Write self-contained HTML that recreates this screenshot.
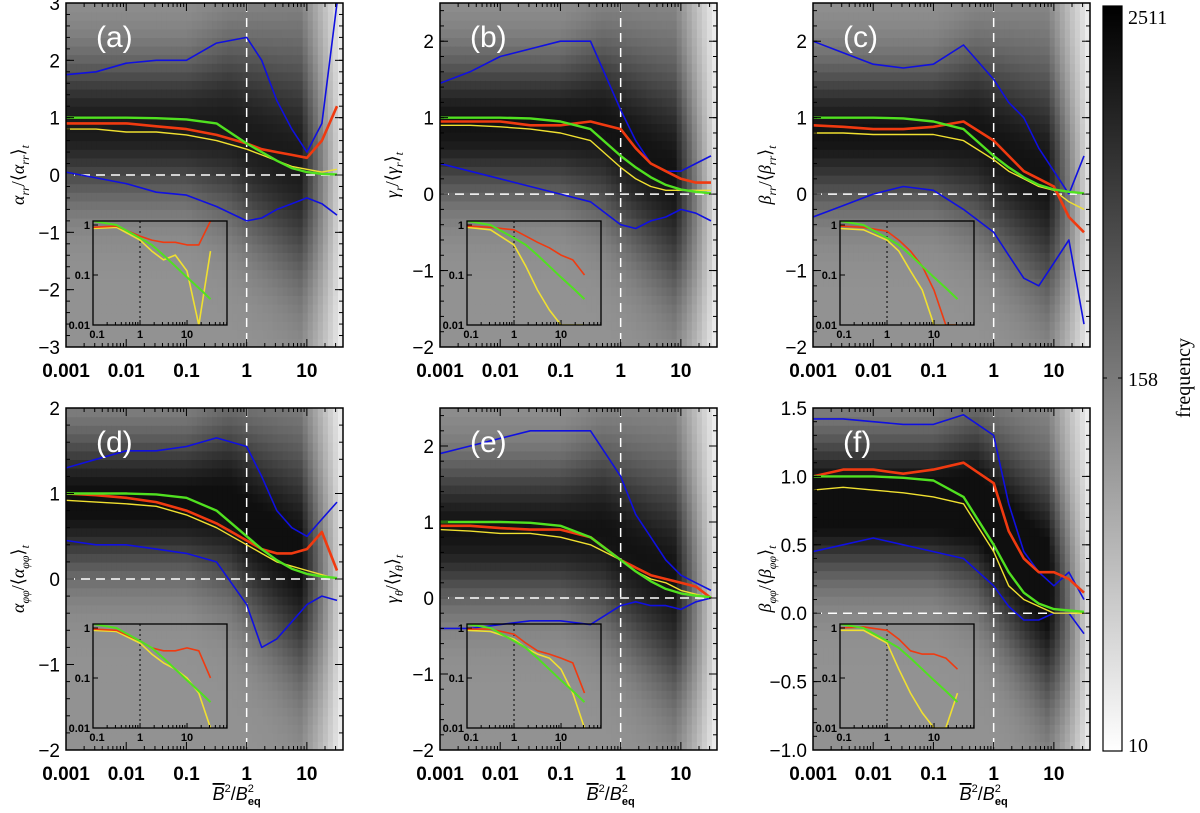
<!DOCTYPE html>
<html><head><meta charset="utf-8"><style>
body{margin:0;background:#fff;}
svg text{font-family:"Liberation Sans",sans-serif;}
</style></head><body>
<svg id="fig" width="1200" height="808" xmlns="http://www.w3.org/2000/svg">
<defs><linearGradient id="cbg" x1="0" y1="1" x2="0" y2="0"><stop offset="0" stop-color="#fff"/><stop offset="0.5" stop-color="#7a7a7a"/><stop offset="1" stop-color="#000"/></linearGradient></defs>
<g id="panels"></g>
<rect x="1103" y="6" width="19" height="745" fill="url(#cbg)" stroke="#000" stroke-width="1.2"/>
<text x="1128" y="24" font-size="20" style="font-family:'Liberation Serif',serif">2511</text>
<text x="1128" y="386" font-size="20" style="font-family:'Liberation Serif',serif">158</text>
<text x="1128" y="752" font-size="20" style="font-family:'Liberation Serif',serif">10</text>
<line x1="1103" y1="378" x2="1107" y2="378" stroke="#000"/><line x1="1118" y1="378" x2="1122" y2="378" stroke="#000"/>
<text transform="translate(1190,378) rotate(-90)" font-size="20" text-anchor="middle" style="font-family:'Liberation Serif',serif">frequency</text>
</svg>
<script>
const NS='http://www.w3.org/2000/svg';
const xs=[-3,-2.5,-2,-1.5,-1,-0.5,0,0.25,0.5,0.75,1,1.25,1.5];
const insetXs=[-1,-0.5,0,0.25,0.5,0.75,1,1.25,1.5];
// panel a
const aBlueUp=[1.75,1.8,1.95,2.0,2.0,2.3,2.4,2.0,1.3,0.8,0.4,0.9,3.0];
const aBlueLo=[0.05,-0.05,-0.15,-0.3,-0.35,-0.55,-0.8,-0.75,-0.6,-0.5,-0.4,-0.5,-0.7];
const aRed=[0.9,0.9,0.9,0.85,0.8,0.7,0.55,0.45,0.4,0.35,0.3,0.6,1.2];
const aYel=[0.8,0.8,0.75,0.75,0.7,0.6,0.45,0.35,0.25,0.15,0.1,0.05,0.1];
const aGreen=[1,1,1,0.99,0.97,0.9,0.55,0.4,0.25,0.12,0.05,0.02,0.01];
// panel b
const bBlueUp=[1.45,1.6,1.8,1.9,2.0,2.0,1.1,0.7,0.4,0.3,0.3,0.4,0.5];
const bBlueLo=[0.4,0.3,0.2,0.1,0.0,-0.1,-0.4,-0.45,-0.35,-0.3,-0.2,-0.25,-0.35];
const bRed=[0.95,0.95,0.95,0.9,0.9,0.95,0.85,0.6,0.4,0.3,0.2,0.15,0.15];
const bYel=[0.9,0.9,0.88,0.85,0.8,0.7,0.35,0.2,0.1,0.05,0.05,0.05,0.05];
const bGreen=[1,1,1,0.99,0.95,0.85,0.5,0.35,0.22,0.12,0.06,0.03,0.01];
// panel c
const cBlueUp=[2.0,1.85,1.7,1.65,1.7,1.95,1.5,1.2,1.0,0.6,0.3,0.0,0.5];
const cBlueLo=[-0.3,-0.15,0.0,0.1,0.05,-0.2,-0.5,-0.8,-1.1,-1.2,-0.9,-0.6,-1.7];
const cRed=[0.9,0.88,0.85,0.85,0.88,0.95,0.7,0.5,0.3,0.2,0.1,-0.3,-0.5];
const cYel=[0.8,0.8,0.78,0.78,0.78,0.7,0.45,0.3,0.2,0.1,0.05,-0.1,-0.2];
const cGreen=[1,1,1,0.99,0.95,0.85,0.5,0.35,0.22,0.12,0.06,0.03,0.01];
// panel d
const dBlueUp=[1.3,1.4,1.5,1.5,1.55,1.65,1.55,1.2,0.8,0.6,0.5,0.7,0.9];
const dBlueLo=[0.45,0.4,0.4,0.35,0.3,0.2,-0.3,-0.8,-0.7,-0.5,-0.3,-0.2,-0.25];
const dRed=[1.0,0.98,0.95,0.9,0.8,0.65,0.45,0.35,0.3,0.3,0.35,0.55,0.1];
const dYel=[0.92,0.9,0.88,0.85,0.75,0.6,0.4,0.3,0.2,0.15,0.1,0.05,0.0];
const dGreen=[1,1,1,0.99,0.95,0.8,0.5,0.35,0.22,0.12,0.06,0.03,0.01];
// panel e
const eBlueUp=[1.9,2.0,2.1,2.2,2.2,2.2,1.6,1.1,0.8,0.5,0.3,0.2,0.1];
const eBlueLo=[-0.4,-0.4,-0.35,-0.3,-0.3,-0.35,-0.1,-0.05,-0.1,-0.1,-0.15,-0.05,0.0];
const eRed=[0.95,0.95,0.92,0.9,0.9,0.8,0.5,0.4,0.3,0.25,0.2,0.15,0.0];
const eYel=[0.9,0.88,0.85,0.85,0.8,0.7,0.5,0.35,0.25,0.2,0.1,0.05,0.0];
const eGreen=[1,1,1,0.99,0.95,0.8,0.5,0.35,0.22,0.12,0.06,0.03,0.01];
// panel f
const fBlueUp=[1.42,1.42,1.4,1.38,1.38,1.45,1.3,0.8,0.45,0.3,0.2,0.3,0.1];
const fBlueLo=[0.45,0.5,0.55,0.5,0.45,0.4,0.2,0.05,-0.05,-0.05,0.0,0.0,-0.15];
const fRed=[1.0,1.05,1.05,1.02,1.05,1.1,0.95,0.6,0.4,0.3,0.3,0.25,0.15];
const fYel=[0.9,0.92,0.9,0.88,0.85,0.8,0.45,0.2,0.1,0.05,0.0,0.0,0.0];
const fGreen=[1,1,1,0.99,0.97,0.85,0.5,0.3,0.15,0.07,0.03,0.02,0.01];
// insets (log-log)
const aInRed=[0.9,0.95,0.6,0.5,0.45,0.45,0.4,0.4,1.2];
const aInYel=[0.85,0.9,0.5,0.3,0.2,0.25,0.12,0.01,0.3];
const bInRed=[0.95,0.9,0.8,0.6,0.45,0.35,0.25,0.2,0.1];
const bInYel=[0.9,0.8,0.4,0.15,0.05,0.02,0.01,0.01,0.01];
const cInRed=[0.95,0.9,0.75,0.5,0.3,0.15,0.05,0.01,0.01];
const cInYel=[0.85,0.8,0.5,0.3,0.12,0.05,0.01,0.01,0.01];
const dInRed=[0.95,0.9,0.55,0.4,0.35,0.35,0.4,0.35,0.1];
const dInYel=[0.9,0.85,0.5,0.3,0.2,0.15,0.1,0.05,0.01];
const eInRed=[0.95,0.95,0.75,0.5,0.35,0.3,0.25,0.2,0.05];
const eInYel=[0.9,0.85,0.6,0.4,0.3,0.25,0.15,0.05,0.01];
const fInRed=[1.0,1.05,0.9,0.6,0.35,0.3,0.3,0.25,0.15];
const fInYel=[0.9,0.9,0.5,0.15,0.05,0.02,0.01,0.01,0.05];
const inGreen=[1.2,1.0,0.55,0.4,0.25,0.15,0.09,0.055,0.033];
const xTickLabels=['0.001','0.01','0.1','1','10'];

const panels=[
 {id:'a',L:66,T:3,B:347,y0:-3,y1:3,ticks:[-3,-2,-1,0,1,2,3],dec:0,up:aBlueUp,lo:aBlueLo,red:aRed,yel:aYel,gr:aGreen,ir:aInRed,iy:aInYel,lab:['α','rr','α','rr'],c:0.85,dark:0.8},
 {id:'b',L:440,T:3,B:347,y0:-2,y1:2.5,ticks:[-2,-1,0,1,2],dec:0,up:bBlueUp,lo:bBlueLo,red:bRed,yel:bYel,gr:bGreen,ir:bInRed,iy:bInYel,lab:['γ','r','γ','r'],c:0.9,dark:0.85},
 {id:'c',L:813,T:3,B:347,y0:-2,y1:2.5,ticks:[-2,-1,0,1,2],dec:0,up:cBlueUp,lo:cBlueLo,red:cRed,yel:cYel,gr:cGreen,ir:cInRed,iy:cInYel,lab:['β','rr','β','rr'],c:0.8,dark:0.85},
 {id:'d',L:66,T:408,B:750,y0:-2,y1:2,ticks:[-2,-1,0,1,2],dec:0,up:dBlueUp,lo:dBlueLo,red:dRed,yel:dYel,gr:dGreen,ir:dInRed,iy:dInYel,lab:['α','φφ','α','φφ'],c:0.9,dark:0.9},
 {id:'e',L:440,T:408,B:750,y0:-2,y1:2.5,ticks:[-2,-1,0,1,2],dec:0,up:eBlueUp,lo:eBlueLo,red:eRed,yel:eYel,gr:eGreen,ir:eInRed,iy:eInYel,lab:['γ','θ','γ','θ'],c:0.9,dark:0.85},
 {id:'f',L:813,T:408,B:750,y0:-1,y1:1.5,ticks:[-1,-0.5,0,0.5,1,1.5],dec:1,up:fBlueUp,lo:fBlueLo,red:fRed,yel:fYel,gr:fGreen,ir:fInRed,iy:fInYel,lab:['β','φφ','β','φφ'],c:0.8,dark:1.0}
];
const W=277, LX0=-3, LX1=1.6;
const root=document.getElementById('panels');
function el(t,a,p){const e=document.createElementNS(NS,t);for(const k in a)e.setAttribute(k,a[k]);(p||root).appendChild(e);return e;}
function polyline(g,X,Y,col,w,name,dash){
  const pts=X.map((x,i)=>[x,Y[i]]).filter(p=>isFinite(p[1]));
  const e=el('polyline',{points:pts.map(p=>p[0].toFixed(1)+','+p[1].toFixed(1)).join(' '),fill:'none',stroke:col,'stroke-width':w,'stroke-linejoin':'round'},g);
  if(dash)e.setAttribute('stroke-dasharray',dash);
  
  
  return e;
}
panels.forEach(P=>{
  const H=P.B-P.T;
  const sx=l=>P.L+(l-LX0)/(LX1-LX0)*W;
  const sy=v=>P.B-(v-P.y0)/(P.y1-P.y0)*H;
  const g=el('g',{});
  
  
  const cid='clip'+P.id;
  const cp=el('clipPath',{id:cid},g);el('rect',{x:P.L,y:P.T,width:W,height:H},cp);
  const hg=el('g',{'clip-path':'url(#'+cid+')'},g);
  
  
  const nc=55,nr=40;
  for(let i=0;i<nc;i++){
    const l=LX0+(i+0.5)/nc*(LX1-LX0);
    const ctr=P.c*(l<-0.3?1:Math.max(0.05,1-(l+0.3)*0.6));
    const sig=(P.y1-P.y0)*(0.14+0.05*Math.max(0,l+1));
    const fade=l<0.9?1:Math.max(0.03,1-(l-0.9)*1.3);
    for(let j=0;j<nr;j++){
      const v=P.y0+(j+0.5)/nr*(P.y1-P.y0);
      const d=Math.exp(-Math.pow((v-ctr)/sig,2)/2);
      const dens=(0.42+0.58*d*P.dark)*fade;
      const gv=Math.round(255-240*Math.min(1,dens*1.08));
      el('rect',{x:sx(LX0+i/nc*(LX1-LX0)).toFixed(1),y:sy(P.y0+(j+1)/nr*(P.y1-P.y0)).toFixed(1),width:(W/nc+0.6).toFixed(1),height:(H/nr+0.6).toFixed(1),fill:`rgb(${gv},${gv},${gv})`},hg);
    }
  }
  el('line',{x1:P.L,x2:P.L+W,y1:sy(0),y2:sy(0),stroke:'#fff','stroke-width':1.5,'stroke-dasharray':'9,6'},g);
  el('line',{x1:sx(0),x2:sx(0),y1:P.T,y2:P.B,stroke:'#fff','stroke-width':1.5,'stroke-dasharray':'9,6'},g);
  const cg=el('g',{'clip-path':'url(#'+cid+')'},g);
  const X=xs.map(sx);
  polyline(cg,X,P.up.map(sy),'#1010e0',1.6,'blue-upper-curve');
  polyline(cg,X,P.lo.map(sy),'#1010e0',1.6,'blue-lower-curve');
  polyline(cg,X,P.yel.map(sy),'#f0e030',1.4,'yellow-curve');
  polyline(cg,X,P.red.map(sy),'#f03a10',2.6,'red-curve');
  polyline(cg,X,P.gr.map(sy),'#50e020',2.4,'green-curve');
  const iL=P.L+27,iT=P.B-126,iW=134,iH=104;
  const ix=l=>iL+(l+1)/(2.85)*iW;
  const iy=v=>iT+iH-(Math.log10(v)+2)/2.08*iH;
  const ig=el('g',{},g);
  
  
  const icid='iclip'+P.id;
  const icp=el('clipPath',{id:icid},ig);el('rect',{x:iL,y:iT,width:iW,height:iH},icp);
  el('line',{x1:ix(0),x2:ix(0),y1:iT,y2:iT+iH,stroke:'#000','stroke-dasharray':'2,3'},ig);
  const icg=el('g',{'clip-path':'url(#'+icid+')'},ig);
  const IX=insetXs.map(ix);
  polyline(icg,IX,P.iy.map(iy),'#f0e030',1.6,'inset-yellow-curve');
  polyline(icg,IX,P.ir.map(iy),'#f03a10',1.6,'inset-red-curve');
  polyline(icg,IX,inGreen.map(iy),'#50e020',2,'inset-green-curve');
  el('rect',{x:iL,y:iT,width:iW,height:iH,fill:'none',stroke:'#000','stroke-width':1.3},ig);
  [[-1,'0.1'],[0,'1'],[1,'10']].forEach(([l,t])=>{const e=el('text',{x:ix(l)+(l==-1?4:0),y:iT+iH+13,'font-size':11,'font-weight':'bold','text-anchor':'middle'},ig);e.textContent=t;
    for(let k=1;k<10;k++){const xx=ix(l+Math.log10(k));if(xx<iL+iW)el('line',{x1:xx,x2:xx,y1:iT+iH,y2:iT+iH-(k==1?5:3),stroke:'#000'},ig);}});
  [[0,'1'],[-1,'0.1'],[-2,'0.01']].forEach(([l,t])=>{const e=el('text',{x:iL-3,y:iy(Math.pow(10,l))+4,'font-size':11,'font-weight':'bold','text-anchor':'end'},ig);e.textContent=t;
    el('line',{x1:iL,x2:iL+5,y1:iy(Math.pow(10,l)),y2:iy(Math.pow(10,l)),stroke:'#000'},ig);});
  el('rect',{x:P.L,y:P.T,width:W,height:H,fill:'none',stroke:'#000','stroke-width':1.5},g);
  for(let d=-3;d<=1;d++){for(let k=1;k<10;k++){const l=d+Math.log10(k);if(l>LX1)break;const xx=sx(l);const len=k==1?8:4;
    el('line',{x1:xx,x2:xx,y1:P.B,y2:P.B-len,stroke:'#000'},g);el('line',{x1:xx,x2:xx,y1:P.T,y2:P.T+len,stroke:'#000'},g);}}
  xTickLabels.forEach((t,i)=>{const e=el('text',{x:sx(i-3),y:P.B+30,'font-size':19,'font-weight':'bold','text-anchor':'middle'},g);e.textContent=t;
    });
  P.ticks.forEach(v=>{const yy=sy(v);
    el('line',{x1:P.L,x2:P.L+8,y1:yy,y2:yy,stroke:'#000'},g);el('line',{x1:P.L+W,x2:P.L+W-8,y1:yy,y2:yy,stroke:'#000'},g);
    const e=el('text',{x:P.L-6,y:yy+7,'font-size':19,'text-anchor':'end'},g);e.textContent=(v<0?'−':'')+Math.abs(v).toFixed(P.dec);
    });
  const step=(P.ticks[1]-P.ticks[0])/5;
  for(let v=P.y0;v<=P.y1+1e-9;v+=step){const yy=sy(v);el('line',{x1:P.L,x2:P.L+4,y1:yy,y2:yy,stroke:'#000'},g);el('line',{x1:P.L+W,x2:P.L+W-4,y1:yy,y2:yy,stroke:'#000'},g);}
  const pl=el('text',{x:P.L+30,y:P.T+44,'font-size':30,fill:'#fff'},g);pl.textContent='('+P.id+')';
  
  const yt=el('text',{transform:`translate(${P.L-42},${P.T+H/2}) rotate(-90)`,'font-size':18,'text-anchor':'middle',style:"font-family:'Liberation Serif',serif"},g);
  
  yt.innerHTML=`<tspan font-style="italic">${P.lab[0]}</tspan><tspan font-size="12" dy="5" font-style="italic">${P.lab[1]}</tspan><tspan dy="-5">/⟨</tspan><tspan font-style="italic">${P.lab[2]}</tspan><tspan font-size="12" dy="5" font-style="italic">${P.lab[3]}</tspan><tspan dy="-5">⟩</tspan><tspan font-size="12" dy="5" font-style="italic">t</tspan>`;
  if(P.T>100){
    const xt=el('text',{x:sx(0)-10,y:P.B+50,'font-size':18,'text-anchor':'middle','font-style':'italic',style:"font-family:'Liberation Sans',sans-serif"},g);
    
    xt.innerHTML='<tspan text-decoration="overline">B</tspan><tspan font-size="11" dy="-8" font-style="normal">2</tspan><tspan dy="8" font-style="normal">/</tspan><tspan>B</tspan><tspan font-size="11" dy="-8" font-style="normal">2</tspan><tspan font-size="11" dx="-6" dy="13" font-style="normal" font-weight="bold">eq</tspan>';
  }
});
</script>
</body></html>
